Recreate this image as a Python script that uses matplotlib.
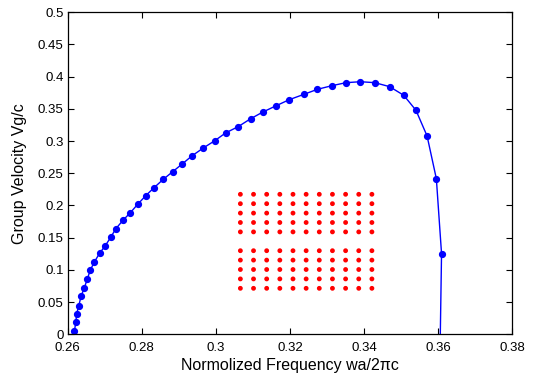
import numpy as np
import matplotlib
matplotlib.use("Agg")
import matplotlib.pyplot as plt

plt.rcParams['font.family'] = ['Liberation Sans', 'DejaVu Sans']

# dispersion data
freq = [0.2618, 0.2622, 0.2624, 0.2630, 0.2636, 0.2645, 0.2653, 0.2661, 0.2672,
        0.2686, 0.2701, 0.2716, 0.2730, 0.2750, 0.2769, 0.2789, 0.2811, 0.2833,
        0.2858, 0.2883, 0.2908, 0.2936, 0.2966, 0.2997, 0.3026, 0.3060, 0.3094,
        0.3127, 0.3163, 0.3198, 0.3238, 0.3274, 0.3313, 0.3351, 0.3390, 0.3429,
        0.3469, 0.3507, 0.3540, 0.3570, 0.3595, 0.3609, 0.3605]
vg = [0.005, 0.0186, 0.0315, 0.0444, 0.059, 0.0724, 0.0859, 0.0998, 0.1123,
      0.1258, 0.1371, 0.1506, 0.164, 0.1775, 0.1888, 0.2019, 0.2155, 0.2276,
      0.2407, 0.2523, 0.264, 0.2773, 0.2893, 0.3006, 0.3126, 0.3224, 0.3348,
      0.3452, 0.355, 0.3643, 0.3727, 0.3804, 0.386, 0.3907, 0.3922, 0.3907,
      0.3845, 0.3711, 0.3478, 0.3079, 0.2416, 0.1252, -0.025]

# photonic crystal waveguide sketch: 11 columns, 11 rows with middle row removed
lattice_cols = list(range(11))
lattice_rows = [-5, -4, -3, -2, -1, 1, 2, 3, 4, 5]

xticks = [0.26, 0.28, 0.3, 0.32, 0.34, 0.36, 0.38]
yticks = [0, 0.05, 0.1, 0.15, 0.2, 0.25, 0.3, 0.35, 0.4, 0.45, 0.5]

fig = plt.figure(figsize=(5.36, 3.78), dpi=100)
ax = fig.add_axes([0.1263, 0.1156, 0.8295, 0.8519])

ax.plot(freq, vg, '-o', color='#0000ff', lw=1.0, markersize=4.2)

ax.set_xlim(0.26, 0.38)
ax.set_ylim(0, 0.5)
ax.set_xticks(xticks)
ax.set_xticklabels([f"{t:g}" for t in xticks])
ax.set_yticks(yticks)
ax.set_yticklabels([f"{t:g}" for t in yticks])
ax.tick_params(direction='in', top=True, right=True, length=4, labelsize=9.5, width=0.8)
ax.tick_params(axis='x', pad=5.5)
ax.tick_params(axis='y', pad=3)
for s in ax.spines.values():
    s.set_linewidth(0.9)

ax.set_xlabel("Normolized Frequency wa/2\u03c0c", fontsize=11.5, labelpad=3)
ax.set_ylabel("Group Velocity Vg/c", fontsize=11.5, labelpad=8)

# inset lattice
ins = ax.inset_axes([0.30483, 0.0641, 0.03905, 0.1606], transform=ax.transData)
cc, rr = np.meshgrid(lattice_cols, lattice_rows)
ins.scatter(cc.ravel(), rr.ravel(), s=12, color='#ff0000', edgecolors='none')
ins.set_xlim(-0.5, 10.5)
ins.set_ylim(-5.5, 5.5)
ins.axis('off')

fig.savefig("out.png", dpi=100)
